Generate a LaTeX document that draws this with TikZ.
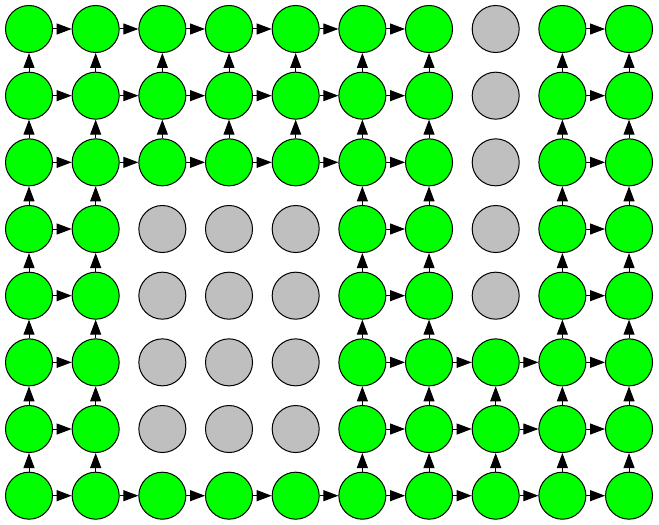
\documentclass[tikz,border=0pt]{standalone}
\usetikzlibrary{arrows.meta}

\begin{document}
\begin{tikzpicture}[
  x=1bp, y=1bp,
  >={Triangle[length=15bp,width=11bp]},
  cell/.style = {
    draw, circle,
    line width=1bp,
    inner sep=0pt,
    minimum size=47bp
  },
  ok/.style   = {cell, fill=green},
  off/.style  = {cell, fill=black!25},
  link/.style = {->, line width=1bp}
]

% ---- constants ----
\def\sp{66.67}       % distance between cell centres
\def\m{29}           % centre of the first cell

\useasboundingbox (0,0) rectangle (659,-525);

% ---- nodes (row/columns) ----
\foreach \r/\cols in {1/{1,2,3,4,5,6,7,9,10}, 2/{1,2,3,4,5,6,7,9,10},
                      3/{1,2,3,4,5,6,7,9,10}, 4/{1,2,6,7,9,10},
                      5/{1,2,6,7,9,10}, 6/{1,2,6,7,8,9,10},
                      7/{1,2,6,7,8,9,10}, 8/{1,2,3,4,5,6,7,8,9,10}}
  \foreach \c in \cols
    \node[ok] (n-\r-\c) at ({\m+(\c-1)*\sp},{-\m-(\r-1)*\sp}) {};

% blocked cells
\foreach \r/\c in {1/8, 2/8, 3/8, 4/3, 4/4, 4/5, 4/8,
                   5/3, 5/4, 5/5, 5/8, 6/3, 6/4, 6/5, 7/3, 7/4, 7/5}
  \node[off] (n-\r-\c) at ({\m+(\c-1)*\sp},{-\m-(\r-1)*\sp}) {};

% ---- arrows to the right ----
\foreach \r/\cols in {1/{1,2,3,4,5,6,9}, 2/{1,2,3,4,5,6,9},
                      3/{1,2,3,4,5,6,9}, 4/{1,6,9}, 5/{1,6,9},
                      6/{1,6,7,8,9}, 7/{1,6,7,8,9},
                      8/{1,2,3,4,5,6,7,8,9}}
  \foreach \c in \cols {
    \pgfmathtruncatemacro{\nc}{\c+1}
    \draw[link] (n-\r-\c) -- (n-\r-\nc);
  }

% ---- arrows upwards ----
\foreach \r/\cols in {2/{1,2,3,4,5,6,7,9,10}, 3/{1,2,3,4,5,6,7,9,10},
                      4/{1,2,6,7,9,10}, 5/{1,2,6,7,9,10},
                      6/{1,2,6,7,9,10}, 7/{1,2,6,7,8,9,10},
                      8/{1,2,6,7,8,9,10}}
  \foreach \c in \cols {
    \pgfmathtruncatemacro{\pr}{\r-1}
    \draw[link] (n-\r-\c) -- (n-\pr-\c);
  }

\end{tikzpicture}
\end{document}
